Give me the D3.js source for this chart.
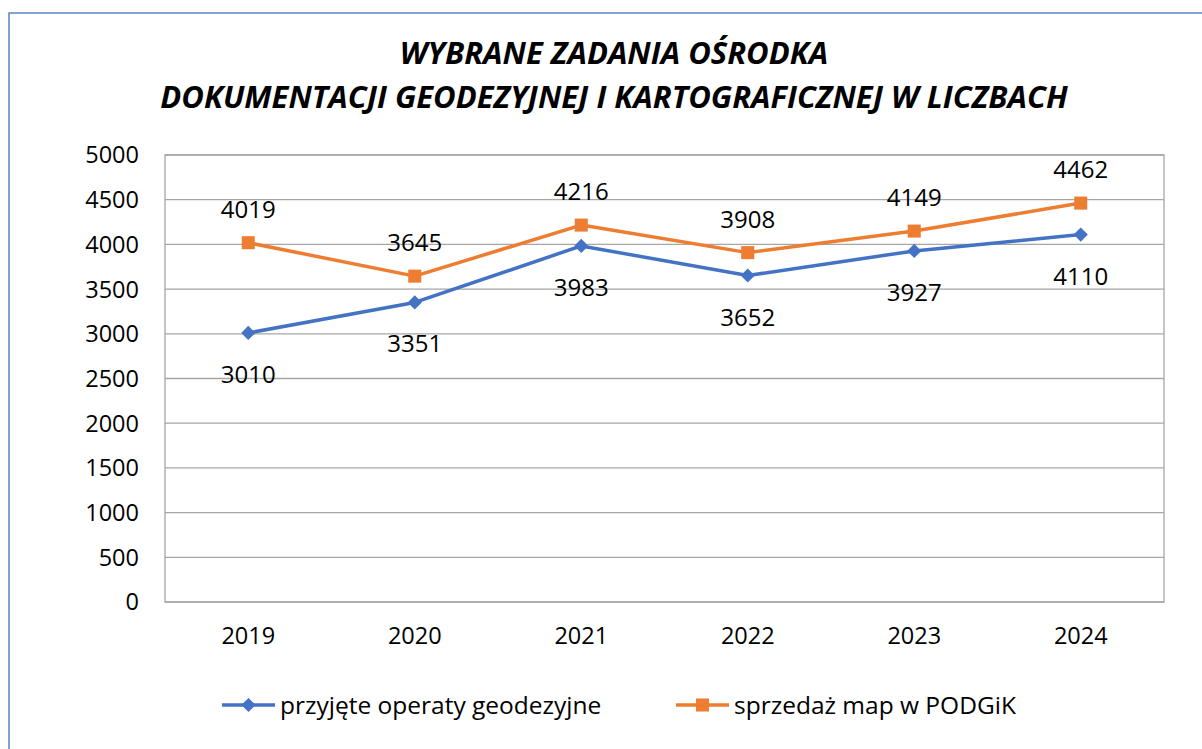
<!DOCTYPE html>
<html>
<head>
<meta charset="utf-8">
<script src="https://cdn.jsdelivr.net/npm/d3@7"></script>
<style>
  body { margin: 0; background: #fff; }
  svg { display: block; font-family: "Open Sans", sans-serif; }
  .grid line { stroke: #a6a6a6; stroke-width: 1.3; }
  .tick-label { font-size: 23.5px; fill: #000; }
  .point-label { font-size: 24px; fill: #000; }
  .title { font-size: 31px; font-weight: bold; font-style: italic; fill: #000; }
  .legend-label { font-size: 24.5px; fill: #000; }
</style>
</head>
<body>
<svg></svg>
<script>
const w = 1202;
const h = 749;

// Data
const years = ["2019", "2020", "2021", "2022", "2023", "2024"];
const operaty = [3010, 3351, 3983, 3652, 3927, 4110];
const sprzedaz = [4019, 3645, 4216, 3908, 4149, 4462];
const yTicks = [0, 500, 1000, 1500, 2000, 2500, 3000, 3500, 4000, 4500, 5000];
const seriesNames = ["przyjęte operaty geodezyjne", "sprzedaż map w PODGiK"];
const titleLines = ["WYBRANE ZADANIA OŚRODKA", "DOKUMENTACJI GEODEZYJNEJ I KARTOGRAFICZNEJ W LICZBACH"];

const blue = "#4472c4";
const orange = "#ed7d31";

const svg = d3.select("svg")
    .attr("width", w)
    .attr("height", h);

// outer frame
svg.append("rect")
    .attr("x", 9)
    .attr("y", 13)
    .attr("width", w)
    .attr("height", h)
    .attr("fill", "none")
    .attr("stroke", "#5b84c6")
    .attr("stroke-width", 1.5);

svg.selectAll(".title")
    .data(titleLines)
    .enter()
    .append("text")
    .attr("class", "title")
    .attr("x", 614)
    .attr("y", (d, i) => 64 + i * 44)
    .attr("text-anchor", "middle")
    .text(d => d);

const plot = { left: 165, right: 1164, top: 155, bottom: 602 };

const x = d3.scaleBand()
    .domain(years)
    .range([plot.left, plot.right]);

const y = d3.scaleLinear()
    .domain([0, 5000])
    .range([plot.bottom, plot.top]);

const cx = d => x(d) + x.bandwidth() / 2;

// grid
svg.append("g")
    .attr("class", "grid")
    .selectAll("line")
    .data(yTicks)
    .enter()
    .append("line")
    .attr("x1", plot.left)
    .attr("x2", plot.right)
    .attr("y1", d => y(d))
    .attr("y2", d => y(d));

svg.append("rect")
    .attr("x", plot.left)
    .attr("y", plot.top)
    .attr("width", plot.right - plot.left)
    .attr("height", plot.bottom - plot.top)
    .attr("fill", "none")
    .attr("stroke", "#a6a6a6")
    .attr("stroke-width", 1.3);

// y tick labels
svg.selectAll(".ytick")
    .data(yTicks)
    .enter()
    .append("text")
    .attr("class", "tick-label")
    .attr("x", 139)
    .attr("y", d => y(d))
    .attr("dy", "0.36em")
    .attr("text-anchor", "end")
    .text(d => d);

// x tick labels
svg.selectAll(".xtick")
    .data(years)
    .enter()
    .append("text")
    .attr("class", "tick-label")
    .attr("x", d => cx(d))
    .attr("y", 644)
    .attr("text-anchor", "middle")
    .text(d => d);

const line = d3.line()
    .x((d, i) => cx(years[i]))
    .y(d => y(d));

// diamond = rotated square
const series = [
    { name: seriesNames[0], values: operaty, color: blue, size: 100, rot: 45, labelDy: 50 },
    { name: seriesNames[1], values: sprzedaz, color: orange, size: 170, rot: 0, labelDy: -25 }
];

series.forEach(s => {
    svg.append("path")
        .datum(s.values)
        .attr("fill", "none")
        .attr("stroke", s.color)
        .attr("stroke-width", 3.5)
        .attr("stroke-linejoin", "round")
        .attr("d", line);

    svg.selectAll(null)
        .data(s.values)
        .enter()
        .append("path")
        .attr("d", d3.symbol().type(d3.symbolSquare).size(s.size))
        .attr("fill", s.color)
        .attr("transform", (d, i) => `translate(${cx(years[i])},${y(d)}) rotate(${s.rot})`);

    svg.selectAll(null)
        .data(s.values)
        .enter()
        .append("text")
        .attr("class", "point-label")
        .attr("x", (d, i) => cx(years[i]))
        .attr("y", d => y(d) + s.labelDy)
        .attr("text-anchor", "middle")
        .text(d => d);
});

// legend
const legendX = [222, 676];
const legendY = 705;
series.forEach((s, i) => {
    const g = svg.append("g").attr("transform", `translate(${legendX[i]},${legendY})`);
    g.append("line")
        .attr("x1", 0).attr("x2", 53)
        .attr("y1", 0).attr("y2", 0)
        .attr("stroke", s.color)
        .attr("stroke-width", 3.5);
    g.append("path")
        .attr("d", d3.symbol().type(d3.symbolSquare).size(s.size))
        .attr("fill", s.color)
        .attr("transform", `translate(26.5,0) rotate(${s.rot})`);
    g.append("text")
        .attr("class", "legend-label")
        .attr("x", 58)
        .attr("y", 0)
        .attr("dy", "0.36em")
        .text(s.name);
});
</script>
</body>
</html>
